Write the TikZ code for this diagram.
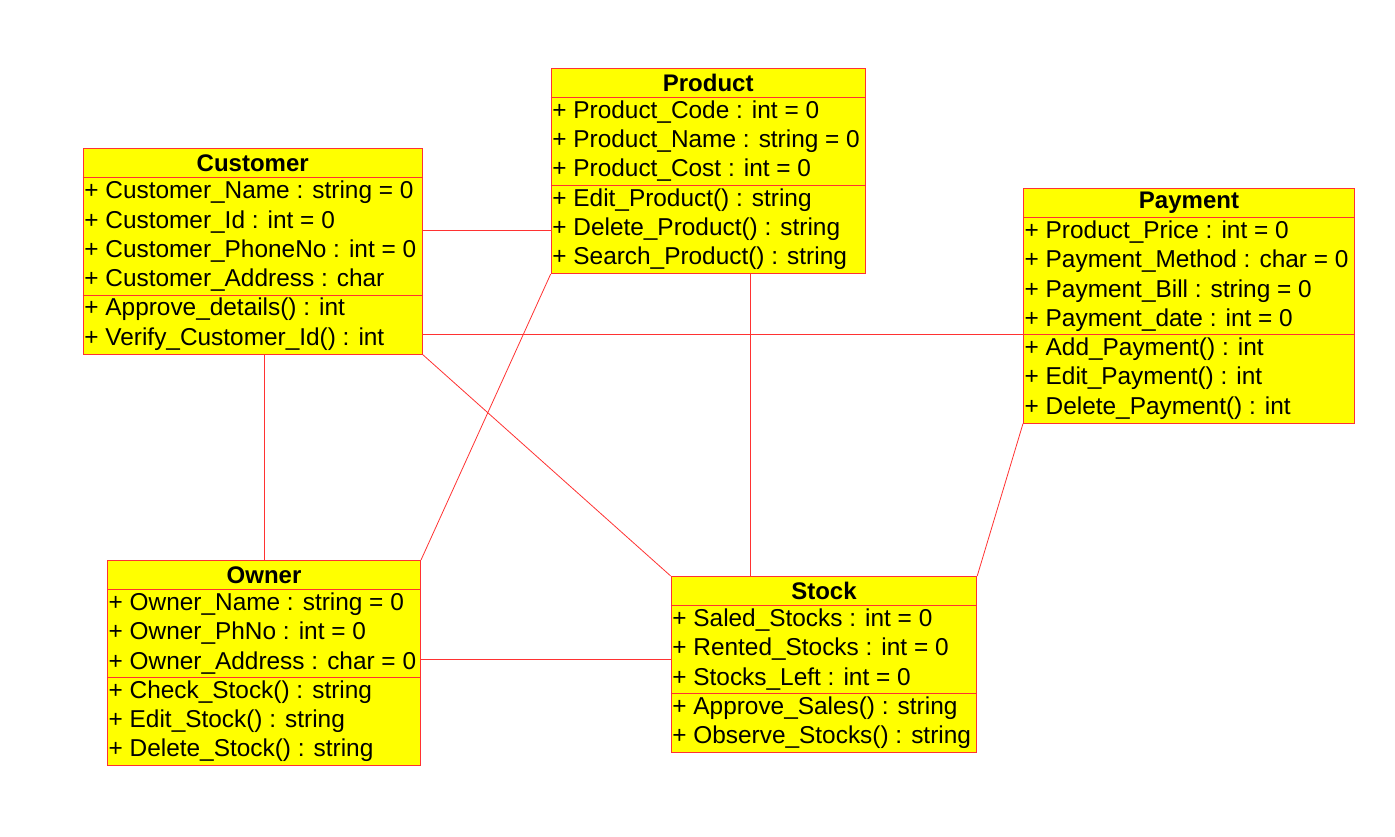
\documentclass[tikz,border=0pt]{standalone}
\usepackage{fontspec}
\setmainfont{Liberation Sans}
\definecolor{umlred}{RGB}{255,50,50}
\definecolor{umlyellow}{RGB}{255,255,0}
\tikzset{
  clsbox/.style={draw=umlred, fill=umlyellow, line width=1pt, inner sep=0pt, rectangle},
  clstitle/.style={inner sep=0pt, minimum height=29.5pt, font=\fontsize{24}{28}\selectfont\bfseries},
  clsrow/.style={inner xsep=1.5pt, inner ysep=0pt, font=\fontsize{24.4}{28}\selectfont},
  clssep/.style={draw=umlred, line width=1pt},
  conn/.style={draw=umlred, line width=0.8pt}
}
% #1 name, #2 corner, #3 width, #4 title, #5 nAttr, #6 nMeth, #7 attrs, #8 methods
\newcommand\umlcls[8]{%
  \pgfmathsetmacro\clsh{29.5+29.3*(#5+#6)}%
  \node[clsbox, minimum width=#3pt, minimum height=\clsh pt, anchor=north west] (#1) at #2 {};
  \node[clstitle, anchor=north] (#1-t) at (#1.north) {#4};
  \coordinate (#1-s1w) at ([yshift=-29.5pt]#1.north west);
  \coordinate (#1-s1e) at ([yshift=-29.5pt]#1.north east);
  \pgfmathsetmacro\clsm{29.5+29.3*#5}%
  \coordinate (#1-s2w) at ([yshift=-\clsm pt]#1.north west);
  \coordinate (#1-s2e) at ([yshift=-\clsm pt]#1.north east);
  \draw[clssep] (#1-s1w) -- (#1-s1e);
  \draw[clssep] (#1-s2w) -- (#1-s2e);
  \foreach \t [count=\i] in {#7} {
    \pgfmathsetmacro\yy{-29.5-(\i-0.5)*29.3}
    \node[clsrow, anchor=west] (#1-a\i) at ([yshift=\yy pt]#1.north west) {\t};
  }
  \foreach \t [count=\i] in {#8} {
    \pgfmathsetmacro\yy{-\clsm-(\i-0.5)*29.3}
    \node[clsrow, anchor=west] (#1-m\i) at ([yshift=\yy pt]#1.north west) {\t};
  }
}
\begin{document}
\begin{tikzpicture}[x=1pt, y=-1pt]
\useasboundingbox (0,0) rectangle (1395,837);

\umlcls{cust}{(82.7,148.3)}{339}{Customer}{4}{2}%
 {+ Customer\_Name : string = 0,+ Customer\_Id : int = 0,+ Customer\_PhoneNo : int = 0,+ Customer\_Address : char}%
 {+ Approve\_details() : int,+ Verify\_Customer\_Id() : int}
\umlcls{prod}{(550.7,67.7)}{314}{Product}{3}{3}%
 {+ Product\_Code : int = 0,+ Product\_Name : string = 0,+ Product\_Cost : int = 0}%
 {+ Edit\_Product() : string,+ Delete\_Product() : string,+ Search\_Product() : string}
\umlcls{pay}{(1023,188)}{331}{Payment}{4}{3}%
 {+ Product\_Price : int = 0,+ Payment\_Method : char = 0,+ Payment\_Bill : string = 0,+ Payment\_date : int = 0}%
 {+ Add\_Payment() : int,+ Edit\_Payment() : int,+ Delete\_Payment() : int}
\umlcls{own}{(107,560)}{313}{Owner}{3}{3}%
 {+ Owner\_Name : string = 0,+ Owner\_PhNo : int = 0,+ Owner\_Address : char = 0}%
 {+ Check\_Stock() : string,+ Edit\_Stock() : string,+ Delete\_Stock() : string}
\umlcls{stock}{(670.7,576)}{305.5}{Stock}{3}{2}%
 {+ Saled\_Stocks : int = 0,+ Rented\_Stocks : int = 0,+ Stocks\_Left : int = 0}%
 {+ Approve\_Sales() : string,+ Observe\_Stocks() : string}

% connectors
\draw[conn] ([yshift=-163pt]prod.north west -| cust.east) -- ([yshift=-163pt]prod.north west);
\draw[conn] (pay-s2w -| cust.east) -- (pay-s2w);
\draw[conn] (cust.south east) -- (stock.north west);
\draw[conn] (own.north |- cust.south) -- (own.north);
\draw[conn] (prod.south west) -- (own.north east);
\draw[conn] ([xshift=200pt]prod.south west) coordinate (pb) -- (pb |- stock.north);
\draw[conn] (pay.south west) -- (stock.north east);
\draw[conn] ([yshift=-99pt]own.north east) -- ([yshift=-99pt]own.north east -| stock.west);
\end{tikzpicture}
\end{document}
